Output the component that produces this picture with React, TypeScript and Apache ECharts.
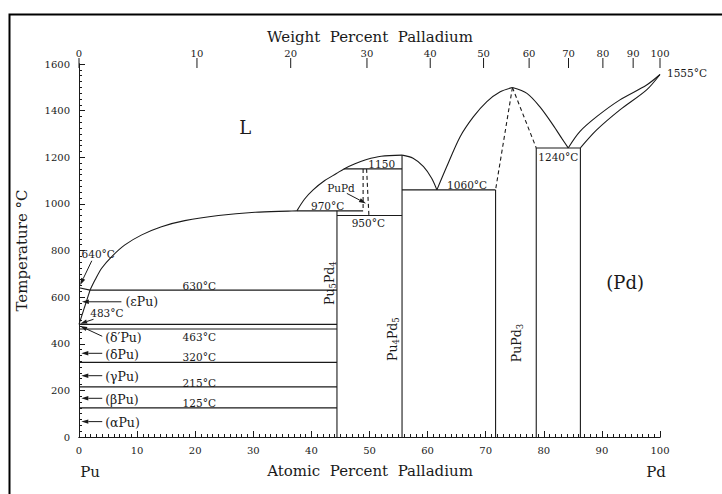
import React, { useEffect, useRef } from "react";
import * as echarts from "echarts";

// Atomic weights used for the top (weight percent) axis
const PU_WEIGHT = 244;
const PD_WEIGHT = 106.42;

// Axis ticks
const atomicTicks = [0, 10, 20, 30, 40, 50, 60, 70, 80, 90, 100];
const weightTicks = [0, 10, 20, 30, 40, 50, 60, 70, 80, 90, 100];
const tempTicks = [0, 200, 400, 600, 800, 1000, 1200, 1400, 1600];

// Phase boundaries: [at.% Pd, °C]
const liquidusPuLow = [[1.9, 630], [2.75, 673], [3.9, 724], [5.6, 773], [7.9, 824], [10.8, 867], [14.2, 902], [18.2, 928], [24.0, 950], [30.3, 964], [36.0, 969], [37.5, 970]];
const liquidusPuPd = [[37.5, 970], [38.8, 1020], [40.3, 1060], [42.3, 1100], [44.3, 1130], [45.6, 1150], [47.5, 1172], [49.5, 1190], [52.0, 1204], [55.6, 1209]];
const liquidusPu4Pd5Right = [[55.6, 1209], [57.5, 1196], [59.3, 1160], [60.7, 1110], [61.6, 1060]];
const liquidusPuPd3Left = [[61.6, 1060], [63.3, 1160], [65.6, 1288], [67.9, 1374], [70.2, 1439], [72.5, 1481], [74.6, 1499]];
const liquidusPuPd3Right = [[74.6, 1499], [77.1, 1474], [79.3, 1417], [81.6, 1338], [83.1, 1281], [84.2, 1240]];
const liquidusPd = [[84.2, 1240], [86.2, 1310], [89.1, 1374], [93.1, 1446], [97.7, 1510], [100, 1555]];
const solidusPd = [[86.3, 1240], [89.1, 1317], [93.1, 1403], [97.7, 1489], [100, 1555]];
const meltPu = [[0, 640], [1.9, 630]];
const solvusEpsPu = [[0, 483], [1.9, 630]];

// Compound / phase-field verticals
const linePu5Pd4 = [[44.4, 0], [44.4, 970]];
const linePu4Pd5 = [[55.6, 0], [55.6, 1209]];
const linePuPd3Left = [[71.7, 0], [71.7, 1060]];
const linePuPd3Right = [[78.7, 0], [78.7, 1240]];
const linePdSolvus = [[86.3, 0], [86.3, 1240]];

// Isotherms
const iso630 = [[1.9, 630], [44.4, 630]];
const iso483 = [[0, 483], [44.4, 483]];
const iso463 = [[0, 463], [44.4, 463]];
const iso320 = [[0, 320], [44.4, 320]];
const iso215 = [[0, 215], [44.4, 215]];
const iso125 = [[0, 125], [44.4, 125]];
const iso970 = [[37.5, 970], [48.9, 970]];
const iso950 = [[44.4, 950], [55.6, 950]];
const iso1150 = [[45.6, 1150], [55.6, 1150]];
const iso1060 = [[55.6, 1060], [71.7, 1060]];
const iso1240 = [[78.7, 1240], [86.3, 1240]];

// Dashed (uncertain) boundaries
const dashPuPdLeft = [[48.9, 1150], [48.9, 970]];
const dashPuPdRight = [[49.5, 1150], [49.9, 950]];
const dashPuPd3Left = [[74.6, 1499], [71.7, 1060]];
const dashPuPd3Right = [[74.6, 1499], [78.7, 1240]];

// Arrows: [fromX, fromT, toX, toT]
const arrows = [
  [2.2, 756, 0.2, 652],
  [2.5, 505, 0.2, 486],
  [4.0, 432, 0.2, 476],
  [7.3, 580, 0.5, 580],
  [4.0, 359, 0.4, 359],
  [4.0, 263, 0.4, 263],
  [4.0, 166, 0.4, 166],
  [4.0, 66, 0.4, 66],
  [46.1, 1045, 49.4, 1002],
];

// Temperature annotations (centered): [text, x, T]
const tempLabels = [
  ["630°C", 20.7, 649],
  ["483°C", 4.8, 533],
  ["463°C", 20.7, 428],
  ["320°C", 20.7, 342],
  ["215°C", 20.7, 233],
  ["125°C", 20.7, 145],
  ["640°C", 3.3, 785],
  ["970°C", 42.8, 992],
  ["950°C", 49.8, 917],
  ["1150", 52.1, 1171],
  ["1060°C", 66.8, 1081],
  ["1240°C", 82.5, 1202],
  ["PuPd", 45.1, 1069],
];
const edgeLabels = [["1555°C", 100, 1562]];

// Phase labels (left aligned)
const phaseLabels = [
  ["(εPu)", 8.0, 580],
  ["(δ′Pu)", 4.5, 425],
  ["(δPu)", 4.5, 352],
  ["(γPu)", 4.5, 259],
  ["(βPu)", 4.5, 163],
  ["(αPu)", 4.5, 63],
];
const bigLabels = [
  ["L", 28.6, 1326],
  ["(Pd)", 94, 661],
];
// Compound labels (vertical): [x, T, el1, n1, el2, n2]
const compoundLabels = [
  [43.2, 660, "Pu", "5", "Pd", "4"],
  [53.9, 420, "Pu", "4", "Pd", "5"],
  [75.3, 403, "Pu", "", "Pd", "3"],
];

const FONT = '"DejaVu Serif", "Liberation Serif", serif';
const INK = "#1a1a1a";

function atFromWt(w: number) {
  if (w <= 0) return 0;
  if (w >= 100) return 100;
  const a = w / PD_WEIGHT;
  const b = (100 - w) / PU_WEIGHT;
  return (a / (a + b)) * 100;
}

function seg(data: number[][], dashed = false, smooth = 0) {
  return {
    type: "line",
    data,
    symbol: "none",
    smooth,
    silent: true,
    xAxisIndex: 0,
    yAxisIndex: 0,
    lineStyle: { color: INK, width: 1.1, type: dashed ? [4, 3] : "solid" },
    z: 3,
  };
}

export default function App() {
  const ref = useRef<HTMLDivElement>(null);
  useEffect(() => {
    if (!ref.current) return;
    const chart = echarts.init(ref.current, null, { renderer: "svg" });

    const C = 0.3;
    const lineSeries = [
      seg(liquidusPuLow, false, C), seg(liquidusPuPd, false, C), seg(liquidusPu4Pd5Right, false, C), seg(liquidusPuPd3Left, false, C),
      seg(liquidusPuPd3Right, false, C), seg(liquidusPd, false, C), seg(solidusPd, false, C), seg(meltPu), seg(solvusEpsPu),
      seg(linePu5Pd4), seg(linePu4Pd5), seg(linePuPd3Left), seg(linePuPd3Right), seg(linePdSolvus),
      seg(iso630), seg(iso483), seg(iso463), seg(iso320), seg(iso215), seg(iso125),
      seg(iso970), seg(iso950), seg(iso1150), seg(iso1060), seg(iso1240),
      seg(dashPuPdLeft, true), seg(dashPuPdRight, true), seg(dashPuPd3Left, true), seg(dashPuPd3Right, true),
    ];

    const arrowSeries = {
      type: "custom",
      silent: true,
      data: arrows,
      z: 5,
      renderItem: (params: any, api: any) => {
        const a = api.coord([api.value(0), api.value(1)]);
        const b = api.coord([api.value(2), api.value(3)]);
        const dx = b[0] - a[0];
        const dy = b[1] - a[1];
        const len = Math.sqrt(dx * dx + dy * dy) || 1;
        const ux = dx / len, uy = dy / len;
        const hl = 7, hw = 2.2;
        const bx = b[0] - ux * hl, by = b[1] - uy * hl;
        return {
          type: "group",
          children: [
            { type: "line", shape: { x1: a[0], y1: a[1], x2: bx, y2: by }, style: { stroke: INK, lineWidth: 1 } },
            {
              type: "polygon",
              shape: { points: [[b[0], b[1]], [bx - uy * hw, by + ux * hw], [bx + uy * hw, by - ux * hw]] },
              style: { fill: INK },
            },
          ],
        };
      },
    };

    const textSeries = (list: any[], size: number, align: string, dx = 0) => ({
      type: "custom",
      silent: true,
      z: 6,
      data: list.map((l) => [l[1], l[2]]),
      renderItem: (params: any, api: any) => {
        const p = api.coord([api.value(0), api.value(1)]);
        return {
          type: "text",
          x: p[0] + dx,
          y: p[1],
          style: { text: list[params.dataIndex][0], fontSize: size, fontFamily: FONT, fill: INK, align, verticalAlign: "middle" },
        };
      },
    });

    const compoundSeries = {
      type: "custom",
      silent: true,
      z: 6,
      data: compoundLabels.map((c) => [c[0], c[1]]),
      renderItem: (params: any, api: any) => {
        const c = compoundLabels[params.dataIndex];
        const p = api.coord([api.value(0), api.value(1)]);
        const txt = `{n|${c[2]}}` + (c[3] ? `{s|${c[3]}}` : "") + `{n|${c[4]}}` + (c[5] ? `{s|${c[5]}}` : "");
        return {
          type: "text",
          x: p[0],
          y: p[1],
          rotation: Math.PI / 2,
          style: {
            text: txt,
            align: "center",
            verticalAlign: "middle",
            fill: INK,
            rich: {
              n: { fontSize: 12.5, fontFamily: FONT, fill: INK, lineHeight: 16, verticalAlign: "middle" },
              s: { fontSize: 8.5, fontFamily: FONT, fill: INK, lineHeight: 7, verticalAlign: "bottom" },
            },
          },
        };
      },
    };

    const topAxisSeries = {
      type: "custom",
      silent: true,
      z: 6,
      data: weightTicks.map((w) => [atFromWt(w), 1600]),
      renderItem: (params: any, api: any) => {
        const p = api.coord([api.value(0), api.value(1)]);
        return {
          type: "group",
          children: [
            { type: "line", shape: { x1: p[0], y1: p[1] - 6, x2: p[0], y2: p[1] + 4 }, style: { stroke: INK, lineWidth: 1 } },
            {
              type: "text",
              x: p[0],
              y: p[1] - 11,
              style: { text: String(weightTicks[params.dataIndex]), fontSize: 10, fontFamily: FONT, fill: INK, align: "center", verticalAlign: "middle" },
            },
          ],
        };
      },
    };

    const axisCommon = {
      type: "value",
      min: 0,
      axisLine: { show: true, lineStyle: { color: INK, width: 1 } },
      splitLine: { show: false },
    };

    chart.setOption({
      animation: false,
      backgroundColor: "#ffffff",
      grid: { left: 79, right: 62, top: 64, bottom: 57, containLabel: false },
      xAxis: [
        {
          ...axisCommon,
          max: 100,
          interval: 10,
          position: "bottom",
          axisTick: { show: true, inside: true, length: 6, lineStyle: { color: INK } },
          minorTick: { show: true, splitNumber: 10, length: 3, lineStyle: { color: INK } },
          axisLabel: { fontSize: 10, fontFamily: FONT, color: INK, margin: 8, formatter: (v: number) => (atomicTicks.includes(v) ? String(v) : "") },
        },
        {
          ...axisCommon,
          max: 100,
          interval: 10,
          position: "top",
          axisTick: { show: true, inside: false, length: 3, lineStyle: { color: INK } },
          minorTick: { show: true, splitNumber: 10, length: 3, lineStyle: { color: INK } },
          axisLabel: { show: false },
        },
      ],
      yAxis: [
        {
          ...axisCommon,
          max: 1600,
          interval: 200,
          position: "left",
          name: "Temperature °C",
          nameLocation: "middle",
          nameGap: 50,
          nameTextStyle: { fontSize: 15, fontFamily: FONT, color: INK },
          axisTick: { show: true, inside: true, length: 6, lineStyle: { color: INK } },
          minorTick: { show: true, splitNumber: 8, length: 3, lineStyle: { color: INK } },
          axisLabel: { fontSize: 10, fontFamily: FONT, color: INK, margin: 9, formatter: (v: number) => (tempTicks.includes(v) ? String(v) : "") },
        },
        {
          ...axisCommon,
          max: 1600,
          interval: 200,
          position: "right",
          axisTick: { show: true, inside: false, length: 6, lineStyle: { color: INK } },
          minorTick: { show: true, splitNumber: 8, length: 3, lineStyle: { color: INK } },
          axisLabel: { show: false },
        },
      ],
      graphic: [
        { type: "rect", left: 7, top: 12, shape: { width: 800, height: 700 }, style: { fill: "none", stroke: "#000", lineWidth: 2 }, silent: true },
        { type: "text", x: 370, y: 37, style: { text: "Weight  Percent  Palladium", fontSize: 15, fontFamily: FONT, fill: INK, align: "center", verticalAlign: "middle" } },
        { type: "text", x: 370, y: 471, style: { text: "Atomic  Percent  Palladium", fontSize: 15, fontFamily: FONT, fill: INK, align: "center", verticalAlign: "middle" } },
        { type: "text", x: 90, y: 472, style: { text: "Pu", fontSize: 15, fontFamily: FONT, fill: INK, align: "center", verticalAlign: "middle" } },
        { type: "text", x: 656, y: 472, style: { text: "Pd", fontSize: 15, fontFamily: FONT, fill: INK, align: "center", verticalAlign: "middle" } },
      ],
      series: [
        ...lineSeries,
        arrowSeries,
        textSeries(tempLabels, 10.5, "center"),
        textSeries(edgeLabels, 10.5, "left", 7),
        textSeries(phaseLabels, 12.5, "left"),
        textSeries(bigLabels, 18, "center"),
        compoundSeries,
        topAxisSeries,
      ],
    });
    return () => chart.dispose();
  }, []);

  return (
    <div
      ref={ref}
      style={{ position: "fixed", left: 0, top: 0, width: 722, height: 494, background: "#fff" }}
    />
  );
}
